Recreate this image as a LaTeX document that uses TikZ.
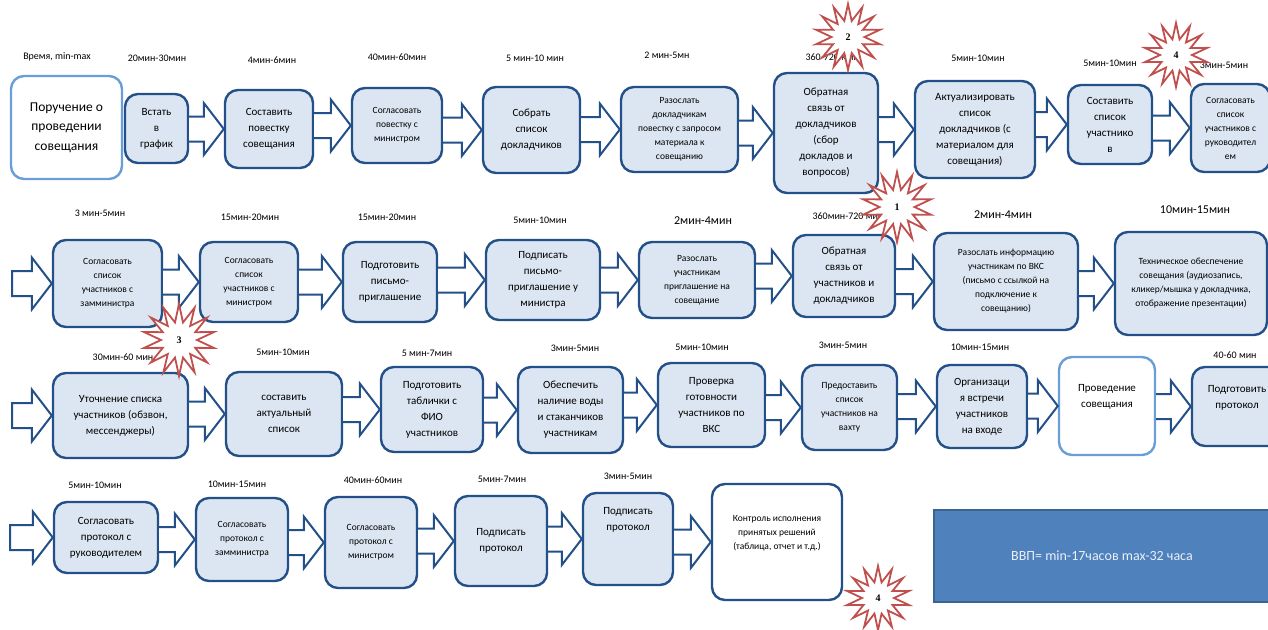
\documentclass[tikz,border=0pt]{standalone}
\usepackage{fontspec}
\setmainfont{Carlito}
\newfontfamily\starfont{Liberation Serif}
\usepackage{xcolor}
\usepackage{tikz}
\usetikzlibrary{calc,shapes.geometric}

\definecolor{boxfill}{HTML}{DCE6F2}
\definecolor{boxline}{HTML}{24508A}
\definecolor{lightline}{HTML}{6A9ED8}
\definecolor{starred}{HTML}{C0504D}
\definecolor{vvpfill}{HTML}{4F81BD}
\definecolor{vvpline}{HTML}{3A6394}

\begin{document}
\begin{tikzpicture}[x=1pt,y=-1pt,
    box/.style={draw=boxline,fill=boxfill,line width=2.4pt,rounded corners=13pt,align=center,inner sep=2pt},
    whitebox/.style={box,fill=white,draw=lightline},
    plainbox/.style={box,fill=white},
    boxsize/.style 2 args={minimum width=#1pt,minimum height=#2pt},
    bigtxt/.style={font=\fontsize{13.5}{19.5}\selectfont},
    midtxt/.style={font=\fontsize{11}{16}\selectfont},
    smalltxt/.style={font=\fontsize{9.5}{14}\selectfont},
    timelbl/.style={font=\fontsize{10}{12}\selectfont},
    bigtime/.style={font=\fontsize{12}{14}\selectfont},
    blockarr/.style={draw=boxline,fill=white,line width=2pt,line join=miter},
    burst/.style={star,star points=14,star point ratio=2,draw=starred,fill=white,line width=1.8pt,inner sep=0pt,font=\starfont\bfseries\fontsize{10}{12}\selectfont},
    vvp/.style={draw=vvpline,fill=vvpfill,line width=2pt,text=white!88!vvpfill,font=\fontsize{14}{16}\selectfont}]
  \useasboundingbox (0,0) rectangle (1268,629);

  % первая строка
  \node[whitebox,bigtxt,boxsize={111}{103}] (A0) at (66.5,127.5) {Поручение о\\проведении\\совещания};
  \node[box,midtxt,boxsize={63}{69}] (A1) at (156.5,128.5) {Встать\\в\\график};
  \node[box,midtxt,boxsize={88}{78}] (A2) at (269,129) {Составить\\повестку\\совещания};
  \node[box,smalltxt,boxsize={90}{75}] (A3) at (397,125.5) {Согласовать\\повестку с\\министром};
  \node[box,midtxt,boxsize={97}{86}] (A4) at (531.5,130) {Собрать\\список\\докладчиков};
  \node[box,smalltxt,boxsize={117}{85}] (A5) at (679.5,129.5) {Разослать\\докладчикам\\повестку с запросом\\материала к\\совещанию};
  \node[box,midtxt,boxsize={104}{120}] (A6) at (826,133) {Обратная\\связь от\\докладчиков\\(сбор\\докладов и\\вопросов)};
  \node[box,midtxt,boxsize={120}{97}] (A7) at (975,129.5) {Актуализировать\\список\\докладчиков (с\\материалом для\\совещания)};
  \node[box,midtxt,boxsize={84}{79}] (A8) at (1110,124.5) {Составить\\список\\участнико\\в};
  \node[box,smalltxt,boxsize={79}{88}] (A9) at (1230.5,128) {Согласовать\\список\\участников с\\руководител\\ем};

  % вторая строка
  \coordinate (in2) at (12,283.5);
  \node[box,smalltxt,boxsize={109}{87}] (B1) at (107.5,283.5) {Согласовать\\список\\участников с\\замминистра};
  \node[box,smalltxt,boxsize={98}{80}] (B2) at (249,282) {Согласовать\\список\\участников с\\министром};
  \node[box,midtxt,boxsize={94}{80}] (B3) at (390,282) {Подготовить\\письмо-\\приглашение};
  \node[box,midtxt,boxsize={114}{80}] (B4) at (543,280) {Подписать\\письмо-\\приглашение у\\министра};
  \node[box,smalltxt,boxsize={116}{76}] (B5) at (697,280) {Разослать\\участникам\\приглашение на\\совещание};
  \node[box,midtxt,boxsize={102}{82}] (B6) at (844,276) {Обратная\\связь от\\участников и\\докладчиков};
  \node[box,smalltxt,boxsize={144}{97}] (B7) at (1006,281.5) {Разослать информацию\\участникам по ВКС\\(письмо с ссылкой на\\подключение к\\совещанию)};
  \node[box,smalltxt,boxsize={152}{103}] (B8) at (1191,283.5) {Техническое обеспечение\\совещания (аудиозапись,\\кликер/мышка у докладчика,\\отображение презентации)};

  % третья строка
  \coordinate (in3) at (12,413.5);
  \node[box,midtxt,boxsize={135}{85}] (C1) at (120.5,415.5) {Уточнение списка\\участников (обзвон,\\мессенджеры)};
  \node[box,midtxt,boxsize={116}{84}] (C2) at (284,414) {составить\\актуальный\\список};
  \node[box,midtxt,boxsize={102}{85}] (C3) at (432,409.5) {Подготовить\\таблички с\\ФИО\\участников};
  \node[box,midtxt,boxsize={105}{86}] (C4) at (570.5,410) {Обеспечить\\наличие воды\\и стаканчиков\\участникам};
  \node[box,midtxt,boxsize={107}{84}] (C5) at (711.5,405) {Проверка\\готовности\\участников по\\ВКС};
  \node[box,smalltxt,boxsize={95}{85}] (C6) at (849.5,407.5) {Предоставить\\список\\участников на\\вахту};
  \node[box,midtxt,boxsize={90}{83}] (C7) at (982,406.5) {Организаци\\я встречи\\участников\\на входе};
  \node[whitebox,midtxt,boxsize={96}{98}] (C8) at (1107,406) {Проведение\\совещания\\[4pt]};
  \node[box,midtxt,boxsize={90}{79}] (C9) at (1237,406.5) {Подготовить\\протокол\\[4pt]};

  % четвертая строка
  \coordinate (in4) at (10,534);
  \node[box,midtxt,boxsize={104}{71}] (D1) at (106,537.5) {Согласовать\\протокол с\\руководителем};
  \node[box,smalltxt,boxsize={92}{83}] (D2) at (242,539.5) {Согласовать\\протокол с\\замминистра};
  \node[box,smalltxt,boxsize={92}{91}] (D3) at (371,542.5) {Согласовать\\протокол с\\министром};
  \node[box,midtxt,boxsize={92}{90}] (D4) at (501,541) {Подписать\\протокол};
  \node[box,boxsize={90}{92}] (D5) at (628,539) {};
  \node[midtxt,align=center] (D5t) at (628,520) {Подписать\\протокол};
  \node[plainbox,smalltxt,boxsize={130}{116}] (D6) at (777,542) {Контроль исполнения\\принятых решений\\(таблица, отчет и т.д.)\\[6pt]};
  \node[vvp,boxsize={336}{92}] (vvp) at (1102,556) {ВВП= min-17часов max-32 часа};

  % стрелки
  \foreach \a/\b in {A1/A2,A2/A3,A3/A4,A4/A5,A5/A6,A6/A7,A7/A8,A8/A9,
                     B1/B2,B2/B3,B3/B4,B4/B5,B5/B6,B6/B7,B7/B8,
                     C1/C2,C2/C3,C3/C4,C4/C5,C5/C6,C6/C7,C7/C8,C8/C9,
                     D1/D2,D2/D3,D3/D4,D4/D5,D5/D6}{
    \coordinate (s) at (\a.east |- \b.west);
    \filldraw[blockarr] ($(s)+(0,-12.5)$) -- ($(\b.west)+(-20,-12.5)$) -- ($(\b.west)+(-20,-26)$)
      -- (\b.west) -- ($(\b.west)+(-20,26)$) -- ($(\b.west)+(-20,12.5)$) -- ($(s)+(0,12.5)$);
  }
  \foreach \a/\b in {in2/B1,in3/C1,in4/D1}{
    \coordinate (s) at (\a |- \b.west);
    \filldraw[blockarr] ($(s)+(0,-12.5)$) -- ($(\b.west)+(-20,-12.5)$) -- ($(\b.west)+(-20,-26)$)
      -- (\b.west) -- ($(\b.west)+(-20,26)$) -- ($(\b.west)+(-20,12.5)$) -- ($(s)+(0,12.5)$) -- cycle;
  }

  % время
  \node[timelbl] (lhead) at (57,57) {Время, min-max};
  \node[timelbl] (lA1) at (157,58) {20мин-30мин};
  \node[timelbl] (lA2) at (272,60) {4мин-6мин};
  \node[timelbl] (lA3) at (397,57) {40мин-60мин};
  \node[timelbl] (lA4) at (535,58) {5 мин-10 мин};
  \node[timelbl] (lA5) at (667,55) {2 мин-5мн};
  \node[timelbl,anchor=west] (lA6) at (802,57) {360-720 мин};
  \node[timelbl] (lA7) at (978,58) {5мин-10мин};
  \node[timelbl] (lA8) at (1110,63) {5мин-10мин};
  \node[timelbl] (lA9) at (1224,65) {3мин-5мин};

  \node[timelbl] (lB1) at (100,213) {3 мин-5мин};
  \node[timelbl] (lB2) at (250,217) {15мин-20мин};
  \node[timelbl] (lB3) at (387,217) {15мин-20мин};
  \node[timelbl] (lB4) at (540,220) {5мин-10мин};
  \node[bigtime] (lB5) at (703,221) {2мин-4мин};
  \node[timelbl,anchor=west] (lB6) at (809,216) {360мин-720 мин};
  \node[bigtime] (lB7) at (1003,215) {2мин-4мин};
  \node[bigtime] (lB8) at (1195,210) {10мин-15мин};

  \node[timelbl] (lC1) at (123,357) {30мин-60 мин};
  \node[timelbl] (lC2) at (283,352) {5мин-10мин};
  \node[timelbl] (lC3) at (427,353) {5 мин-7мин};
  \node[timelbl] (lC4) at (575,348) {3мин-5мин};
  \node[timelbl] (lC5) at (702,347) {5мин-10мин};
  \node[timelbl] (lC6) at (843,345) {3мин-5мин};
  \node[timelbl] (lC7) at (980,347) {10мин-15мин};
  \node[timelbl] (lC9) at (1235,355) {40-60 мин};

  \node[timelbl] (lD1) at (95,485) {5мин-10мин};
  \node[timelbl] (lD2) at (237,484) {10мин-15мин};
  \node[timelbl] (lD3) at (373,480) {40мин-60мин};
  \node[timelbl] (lD4) at (502,479) {5мин-7мин};
  \node[timelbl] (lD5) at (628,476) {3мин-5мин};

  % звездочки
  \node[burst,minimum size=66pt] (s2) at (848,37) {2};
  \node[burst,minimum size=64pt] (s4) at (1176,55) {4};
  \node[burst,minimum size=70pt] (s1) at (897,207) {1};
  \node[burst,minimum size=72pt] (s3) at (179,340) {3};
  \node[burst,minimum size=64pt] (s5) at (878,598) {4};
\end{tikzpicture}
\end{document}
